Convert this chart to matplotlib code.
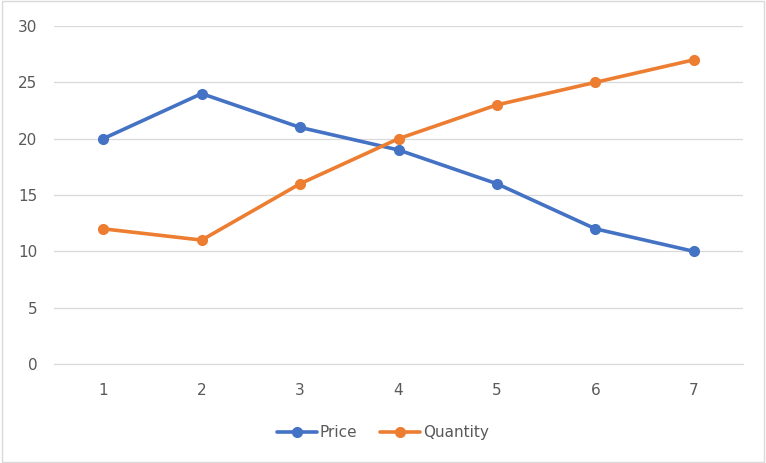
import matplotlib.pyplot as plt

x = [1, 2, 3, 4, 5, 6, 7]
price = [20, 24, 21, 19, 16, 12, 10]
quantity = [12, 11, 16, 20, 23, 25, 27]
yticks = [0, 5, 10, 15, 20, 25, 30]

fig = plt.figure(figsize=(7.66, 4.63), dpi=100)
ax = fig.add_axes([0.0705, 0.2138, 0.8995, 0.73])

ax.plot(x, price, color='#4472C4', lw=2.6, marker='o', ms=7, label='Price',
        solid_capstyle='round')
ax.plot(x, quantity, color='#ED7D31', lw=2.6, marker='o', ms=7, label='Quantity',
        solid_capstyle='round')

ax.set_xlim(0.5, 7.5)
ax.set_ylim(0, 30)
ax.set_xticks(x)
ax.set_yticks(yticks)
ax.grid(axis='y', color='#D9D9D9', lw=0.9)
ax.set_axisbelow(True)
for s in ['top', 'right', 'left']:
    ax.spines[s].set_visible(False)
ax.spines['bottom'].set_color('#D9D9D9')
ax.tick_params(length=0, labelsize=11, colors='#595959')
ax.tick_params(axis='x', pad=14)
ax.tick_params(axis='y', pad=12)

leg = fig.legend(loc='center', bbox_to_anchor=(0.5, 0.066), ncol=2, frameon=False,
                 fontsize=11, handlelength=2.6, columnspacing=1.5, handletextpad=0.2)
for t in leg.get_texts():
    t.set_color('#595959')

fig.patches.append(plt.Rectangle((0.002, 0.003), 0.995, 0.994, transform=fig.transFigure,
                                 fill=False, edgecolor='#D9D9D9', lw=1))

fig.savefig('out.png', dpi=100)
